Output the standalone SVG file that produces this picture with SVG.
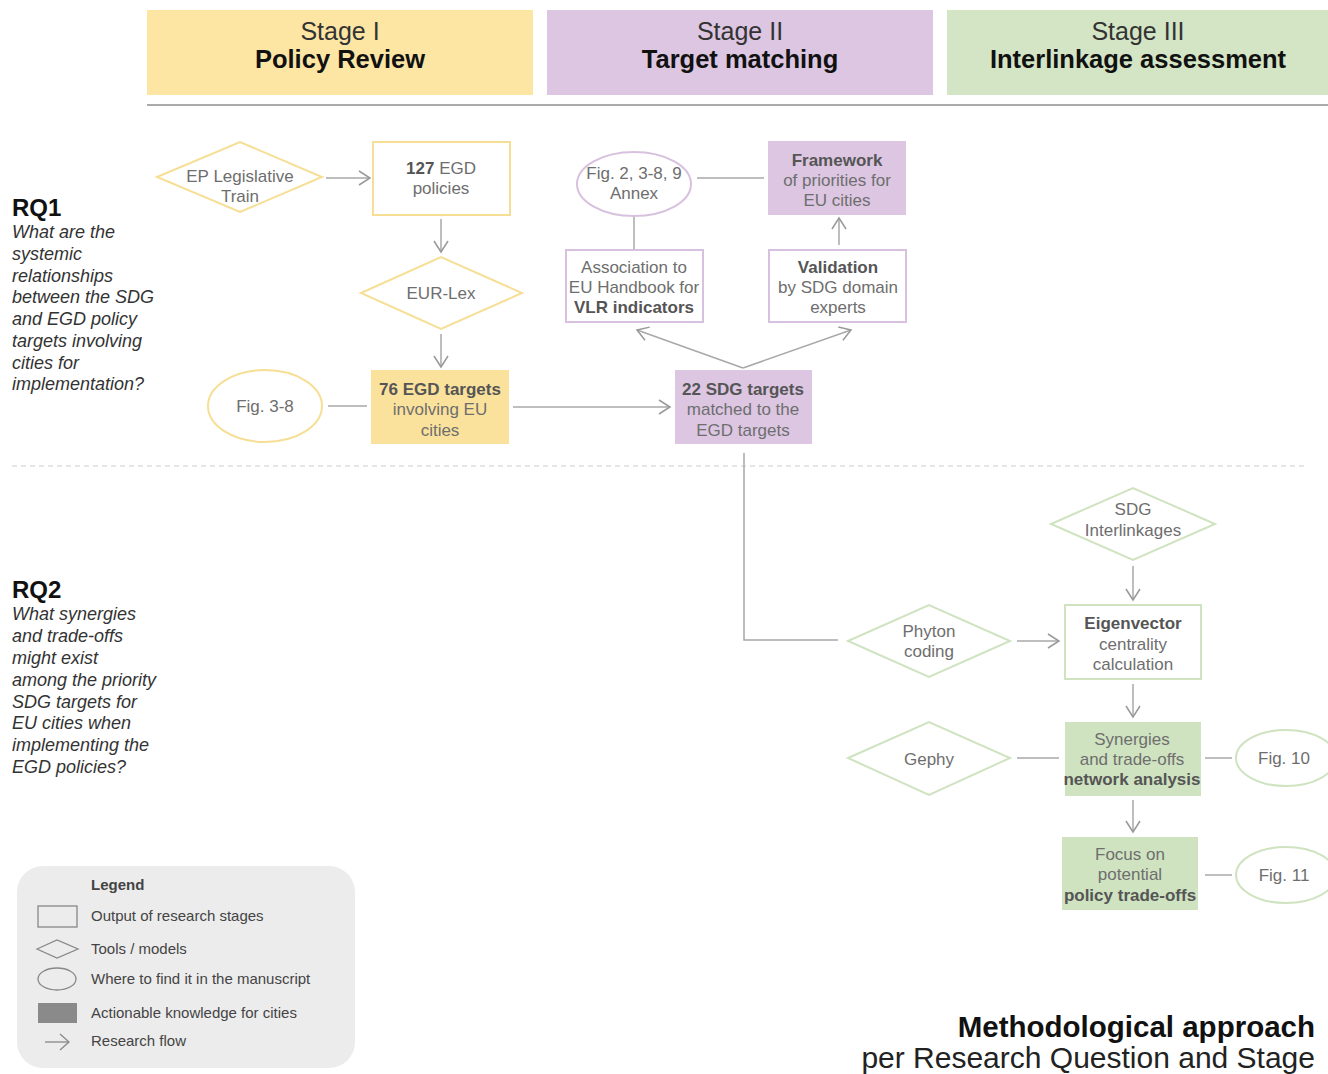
<svg xmlns="http://www.w3.org/2000/svg" width="1328" height="1074" viewBox="0 0 1328 1074">
<style>
text{font-family:"Liberation Sans",Arial,sans-serif}
.hd{font-size:25px;fill:#333;text-anchor:middle}
.hb{font-size:25.5px;font-weight:bold;fill:#111;text-anchor:middle}
.t{font-size:17px;fill:#6e6e6e;text-anchor:middle}
.b{font-weight:bold;fill:#555}
.rq{font-size:24px;font-weight:bold;fill:#111}
.q{font-size:18px;font-style:italic;fill:#333}
.lg{font-size:15px;fill:#444}
.c{fill:none;stroke:#a8a8a8;stroke-width:1.5}
.y{fill:#fff;stroke:#f6df95;stroke-width:2}
.yf{fill:#fbe29c;stroke:#fbe29c;stroke-width:2}
.p{fill:#fff;stroke:#d8c1de;stroke-width:2}
.pf{fill:#dcc6e2;stroke:#dcc6e2;stroke-width:2}
.g{fill:#fff;stroke:#cfe3c1;stroke-width:2}
.gf{fill:#cfe3c0;stroke:#cfe3c0;stroke-width:2}
</style>
<defs>
<marker id="ar" markerUnits="userSpaceOnUse" markerWidth="14" markerHeight="16" refX="12" refY="8" orient="auto" viewBox="0 0 14 16">
<path d="M1,1 L12,8 L1,15" fill="none" stroke="#999" stroke-width="1.5"/>
</marker>
</defs>
<rect width="1328" height="1074" fill="#fff"/>

<g id="headers">
<rect x="147" y="10" width="386" height="85" fill="#fde5a4"/>
<text class="hd" x="340" y="40">Stage I</text>
<text class="hb" x="340" y="68">Policy Review</text>
<rect x="547" y="10" width="386" height="85" fill="#dcc6e2"/>
<text class="hd" x="740" y="40">Stage II</text>
<text class="hb" x="740" y="68">Target matching</text>
<rect x="947" y="10" width="381" height="85" fill="#d3e5c4"/>
<text class="hd" x="1138" y="40">Stage III</text>
<text class="hb" x="1138" y="68">Interlinkage assessment</text>
<line x1="147" y1="105" x2="1328" y2="105" stroke="#aaa" stroke-width="2"/>
</g>

<g id="rq1">
<text class="rq" x="12" y="216">RQ1</text>
<text class="q" x="12" y="238">What are the</text>
<text class="q" x="12" y="260">systemic</text>
<text class="q" x="12" y="282">relationships</text>
<text class="q" x="12" y="303">between the SDG</text>
<text class="q" x="12" y="325">and EGD policy</text>
<text class="q" x="12" y="347">targets involving</text>
<text class="q" x="12" y="369">cities for</text>
<text class="q" x="12" y="390">implementation?</text>
</g>
<g id="rq2">
<text class="rq" x="12" y="598">RQ2</text>
<text class="q" x="12" y="620">What synergies</text>
<text class="q" x="12" y="642">and trade-offs</text>
<text class="q" x="12" y="664">might exist</text>
<text class="q" x="12" y="686">among the priority</text>
<text class="q" x="12" y="708">SDG targets for</text>
<text class="q" x="12" y="729">EU cities when</text>
<text class="q" x="12" y="751">implementing the</text>
<text class="q" x="12" y="773">EGD policies?</text>
</g>

<line x1="12" y1="466" x2="1305" y2="466" stroke="#ccc" stroke-width="1.2" stroke-dasharray="5,4"/>

<g id="connectors">
<line class="c" x1="326" y1="178" x2="370" y2="178" marker-end="url(#ar)"/>
<line class="c" x1="441" y1="219" x2="441" y2="252" marker-end="url(#ar)"/>
<line class="c" x1="441" y1="334" x2="441" y2="367" marker-end="url(#ar)"/>
<line class="c" x1="328" y1="406" x2="367" y2="406"/>
<line class="c" x1="513" y1="407" x2="670" y2="407" marker-end="url(#ar)"/>
<line class="c" x1="743" y1="368" x2="637" y2="330" marker-end="url(#ar)"/>
<line class="c" x1="743" y1="368" x2="851" y2="330" marker-end="url(#ar)"/>
<line class="c" x1="634" y1="216" x2="634" y2="249"/>
<line class="c" x1="697" y1="178" x2="764" y2="178"/>
<line class="c" x1="839" y1="245" x2="839" y2="218" marker-end="url(#ar)"/>
<polyline class="c" points="744,453 744,640 838,640"/>
<line class="c" x1="1133" y1="566" x2="1133" y2="600" marker-end="url(#ar)"/>
<line class="c" x1="1017" y1="641" x2="1059" y2="641" marker-end="url(#ar)"/>
<line class="c" x1="1133" y1="684" x2="1133" y2="717" marker-end="url(#ar)"/>
<line class="c" x1="1017" y1="758" x2="1059" y2="758"/>
<line class="c" x1="1205" y1="758" x2="1232" y2="758"/>
<line class="c" x1="1133" y1="800" x2="1133" y2="832" marker-end="url(#ar)"/>
<line class="c" x1="1205" y1="875" x2="1232" y2="875"/>
</g>

<g id="ep-legislative-train">
<polygon class="y" points="157,177 240,142 322,177 240,212"/>
<text class="t" x="240" y="182">EP Legislative</text>
<text class="t" x="240" y="202">Train</text>
</g>
<g id="egd-policies">
<rect class="y" x="373" y="142" width="137" height="73"/>
<text class="t" x="441" y="174"><tspan class="b">127</tspan> EGD</text>
<text class="t" x="441" y="194">policies</text>
</g>
<g id="eur-lex">
<polygon class="y" points="361,293 441,257 522,293 441,329"/>
<text class="t" x="441" y="299">EUR-Lex</text>
</g>
<g id="egd-targets">
<rect class="yf" x="372" y="371" width="136" height="72"/>
<text class="t b" x="440" y="395">76 EGD targets</text>
<text class="t" x="440" y="415">involving EU</text>
<text class="t" x="440" y="436">cities</text>
</g>
<g id="fig-3-8">
<ellipse class="y" cx="265" cy="406" rx="57" ry="36"/>
<text class="t" x="265" y="412">Fig. 3-8</text>
</g>
<g id="sdg-targets">
<rect class="pf" x="676" y="371" width="135" height="72"/>
<text class="t b" x="743" y="395">22 SDG targets</text>
<text class="t" x="743" y="415">matched to the</text>
<text class="t" x="743" y="436">EGD targets</text>
</g>
<g id="association">
<rect class="p" x="566" y="250" width="137" height="72"/>
<text class="t" x="634" y="273">Association to</text>
<text class="t" x="634" y="293">EU Handbook for</text>
<text class="t b" x="634" y="313">VLR indicators</text>
</g>
<g id="validation">
<rect class="p" x="769" y="250" width="137" height="72"/>
<text class="t b" x="838" y="273">Validation</text>
<text class="t" x="838" y="293">by SDG domain</text>
<text class="t" x="838" y="313">experts</text>
</g>
<g id="fig-2-annex">
<ellipse class="p" cx="634" cy="184" rx="57" ry="32"/>
<text class="t" x="634" y="179">Fig. 2, 3-8, 9</text>
<text class="t" x="634" y="199">Annex</text>
</g>
<g id="framework">
<rect class="pf" x="769" y="142" width="136" height="72"/>
<text class="t b" x="837" y="166">Framework</text>
<text class="t" x="837" y="186">of priorities for</text>
<text class="t" x="837" y="206">EU cities</text>
</g>

<g id="sdg-interlinkages">
<polygon class="g" points="1051,524 1133,488 1215,524 1133,560"/>
<text class="t" x="1133" y="515">SDG</text>
<text class="t" x="1133" y="536">Interlinkages</text>
</g>
<g id="phyton-coding">
<polygon class="g" points="848,641 929,605 1010,641 929,677"/>
<text class="t" x="929" y="637">Phyton</text>
<text class="t" x="929" y="657">coding</text>
</g>
<g id="eigenvector">
<rect class="g" x="1065" y="605" width="136" height="74"/>
<text class="t b" x="1133" y="629">Eigenvector</text>
<text class="t" x="1133" y="650">centrality</text>
<text class="t" x="1133" y="670">calculation</text>
</g>
<g id="gephy">
<polygon class="g" points="848,758 929,722 1010,758 929,795"/>
<text class="t" x="929" y="765">Gephy</text>
</g>
<g id="synergies">
<rect class="gf" x="1066" y="723" width="134" height="72"/>
<text class="t" x="1132" y="745">Synergies</text>
<text class="t" x="1132" y="765">and trade-offs</text>
<text class="t b" x="1132" y="785">network analysis</text>
</g>
<g id="fig-10">
<ellipse class="g" cx="1286" cy="758" rx="50" ry="28"/>
<text class="t" x="1284" y="764">Fig. 10</text>
</g>
<g id="focus">
<rect class="gf" x="1063" y="838" width="134" height="71"/>
<text class="t" x="1130" y="860">Focus on</text>
<text class="t" x="1130" y="880">potential</text>
<text class="t b" x="1130" y="901">policy trade-offs</text>
</g>
<g id="fig-11">
<ellipse class="g" cx="1286" cy="875" rx="50" ry="28"/>
<text class="t" x="1284" y="881">Fig. 11</text>
</g>

<g id="legend">
<rect x="17" y="866" width="338" height="202" rx="26" fill="#ececec"/>
<text class="lg" x="91" y="890" font-weight="bold" fill="#222">Legend</text>
<rect x="38" y="906" width="39" height="21" fill="none" stroke="#888" stroke-width="1.3"/>
<text class="lg" x="91" y="921">Output of research stages</text>
<polygon points="37,949 57,940 78,949 57,958" fill="none" stroke="#888" stroke-width="1.3"/>
<text class="lg" x="91" y="954">Tools / models</text>
<ellipse cx="57" cy="979" rx="19" ry="11" fill="none" stroke="#888" stroke-width="1.3"/>
<text class="lg" x="91" y="984">Where to find it in the manuscript</text>
<rect x="38" y="1003" width="39" height="20" fill="#8a8a8a"/>
<text class="lg" x="91" y="1018">Actionable knowledge for cities</text>
<line x1="45" y1="1042" x2="69" y2="1042" stroke="#888" stroke-width="1.3"/>
<path d="M60,1034 L69,1042 L60,1050" fill="none" stroke="#888" stroke-width="1.3"/>
<text class="lg" x="91" y="1046">Research flow</text>
</g>

<g id="title">
<text x="1315" y="1037" text-anchor="end" font-size="29.5" font-weight="bold" fill="#111">Methodological approach</text>
<text x="1315" y="1068" text-anchor="end" font-size="30" fill="#222">per Research Question and Stage</text>
</g>
</svg>
